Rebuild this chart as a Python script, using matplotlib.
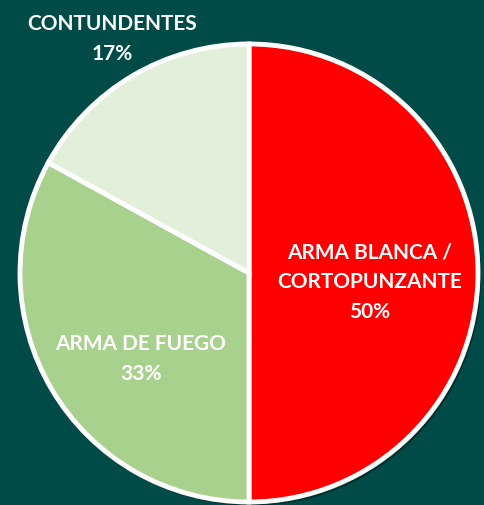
import numpy as np
import matplotlib.pyplot as plt
from matplotlib.patches import Circle

# Datos del grafico
labels = ['ARMA BLANCA /\nCORTOPUNZANTE', 'ARMA DE FUEGO', 'CONTUNDENTES']
values = [50, 33, 17]
colors = ['#FF0000', '#A9D18E', '#E2EFDA']
bg = '#004B48'

W, H = 484, 506
cx, cy, R = 249, 274, 229  # centro y radio en pixeles


def px(x, y):
    # pixel (desde arriba-izquierda) -> coordenadas de datos
    return (x - cx) / R, (cy - y) / R


plt.rcParams['font.family'] = ['Lato', 'DejaVu Sans']
fig = plt.figure(figsize=(W / 100, H / 100), dpi=100, facecolor=bg)
ax = fig.add_axes([0, 0, 1, 1])
ax.set_facecolor(bg)

# sombra suave
ax.add_patch(Circle((0.012, -0.014), 1.0, color='black', alpha=0.25, zorder=0))

wedges, _ = ax.pie(values, colors=colors, startangle=90, counterclock=False,
                   radius=1.0, wedgeprops=dict(edgecolor='white', linewidth=3.5))

pct = [f'{v}%' for v in values]
txt = dict(color='white', fontsize=15, fontweight='bold', ha='center',
           va='center', linespacing=1.62)
ax.text(*px(370, 282), labels[0] + '\n' + pct[0], **txt)
ax.text(*px(141, 359), labels[1] + '\n' + pct[1], **txt)
ax.text(*px(112, 39), labels[2] + '\n' + pct[2], **txt)

x0, y0 = px(0, H)
x1, y1 = px(W, 0)
ax.set_xlim(x0, x1)
ax.set_ylim(y0, y1)
ax.set_aspect('equal')
ax.axis('off')

fig.savefig('out.png', dpi=100, facecolor=bg)
